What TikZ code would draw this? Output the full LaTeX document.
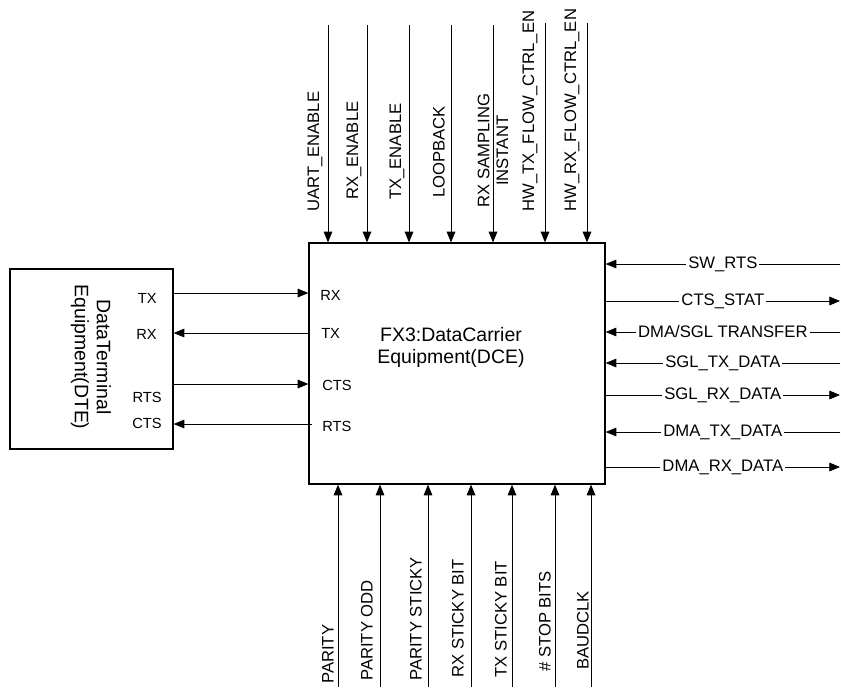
\documentclass[tikz,border=0pt]{standalone}
\usepackage{fontspec}
\setmainfont{Liberation Sans}
\usetikzlibrary{arrows.meta}

\begin{document}
\begin{tikzpicture}[x=0.75pt,y=-0.75pt,
    box/.style={draw,line width=1pt,inner sep=0pt},
    sig/.style={line width=0.6pt,-{Triangle[length=8pt,width=6.5pt]}},
    lbl/.style={font=\fontsize{12.5}{14}\selectfont,inner sep=0pt},
    pin/.style={font=\fontsize{11}{13}\selectfont,inner sep=0pt},
    title/.style={font=\fontsize{14.6}{16.5}\selectfont,align=center,inner sep=0pt}]
  \useasboundingbox (0,0) rectangle (841,687);

  % the two equipments
  \node[box,minimum width=122.25pt,minimum height=135pt] (dte) at (91.5,359) {};
  \node[box,minimum width=222pt,minimum height=180.75pt] (dce) at (457,363.5) {};
  \node[title,rotate=-90] (dtename) at (91,357) {DataTerminal\\Equipment(DTE)};
  \node[title] (dcename) at (451,347) {FX3:DataCarrier\\Equipment(DCE)};

  % pins of the DTE
  \node[pin,anchor=east] (dtetx) at (157,298) {TX};
  \node[pin,anchor=east] (dterx) at (157,334) {RX};
  \node[pin,anchor=east] (dterts) at (162,397) {RTS};
  \node[pin,anchor=east] (dtects) at (162,423) {CTS};
  % pins of the DCE
  \node[pin,anchor=west] (dcerx) at (320,295) {RX};
  \node[pin,anchor=west] (dcetx) at (321,333) {TX};
  \node[pin,anchor=west] (dcects) at (322,385) {CTS};
  \node[pin,anchor=west] (dcerts) at (322,426) {RTS};

  % links between DTE and DCE
  \coordinate (ltx) at (0,293);
  \coordinate (lrx) at (0,333);
  \coordinate (lrts) at (0,384);
  \coordinate (lcts) at (0,424);
  \draw[sig] (dte.east |- ltx) -- (dce.west |- ltx);
  \draw[sig] (dce.west |- lrx) -- (dte.east |- lrx);
  \draw[sig] (dte.east |- lrts) -- (dce.west |- lrts);
  \draw[sig] ([xshift=3pt]dce.west |- lcts) -- (dte.east |- lcts);

  % control inputs from the top
  \foreach \x/\lx/\ly/\txt/\s [count=\i] in {
      328/315/212/UART\_ENABLE/25,
      367/354/200/RX\_ENABLE/25,
      409/397/200/TX\_ENABLE/25,
      451/439/198/LOOPBACK/25,
      545/530/212/HW\_TX\_FLOW\_CTRL\_EN/23,
      587/572/212/HW\_RX\_FLOW\_CTRL\_EN/23} {
    \coordinate (t\i) at (\x,\s);
    \draw[sig] (t\i) -- (t\i |- dce.north);
    \node[lbl,rotate=90,anchor=west] (tl\i) at (\lx,\ly) {\txt};
  }
  \coordinate (tsamp) at (493,25);
  \draw[sig] (tsamp) -- (tsamp |- dce.north);
  \node[lbl,rotate=90,align=center,anchor=west] (tlsamp) at (493,208) {RX SAMPLING\\INSTANT};

  % settings from the bottom
  \foreach \x/\lx/\ly/\txt [count=\i] in {
      338/328/684/PARITY,
      380/367/681/PARITY ODD,
      428/416/681/PARITY STICKY,
      471/458/678/RX STICKY BIT,
      512/501/678/TX STICKY BIT,
      555/545/672/\# STOP BITS,
      591/583/670/BAUDCLK} {
    \coordinate (b\i) at (\x,687);
    \draw[sig] (b\i) -- (b\i |- dce.south);
    \node[lbl,rotate=90,anchor=west] (bl\i) at (\lx,\ly) {\txt};
  }

  % signals on the right
  \def\inword{in}
  \foreach \y/\txt/\dir [count=\i] in {
      264/SW\_RTS/in,
      301/CTS\_STAT/out,
      332/{DMA/SGL TRANSFER}/in,
      363/SGL\_TX\_DATA/in,
      395/SGL\_RX\_DATA/out,
      432/DMA\_TX\_DATA/in,
      467/DMA\_RX\_DATA/out} {
    \coordinate (r\i) at (840,\y);
    \ifx\dir\inword
      \draw[sig] (r\i) -- (r\i -| dce.east)
        node[lbl,midway,fill=white,inner xsep=1.5pt] (rl\i) {\txt};
    \else
      \draw[sig] (r\i -| dce.east) -- (r\i)
        node[lbl,midway,fill=white,inner xsep=1.5pt] (rl\i) {\txt};
    \fi
  }
\end{tikzpicture}
\end{document}
